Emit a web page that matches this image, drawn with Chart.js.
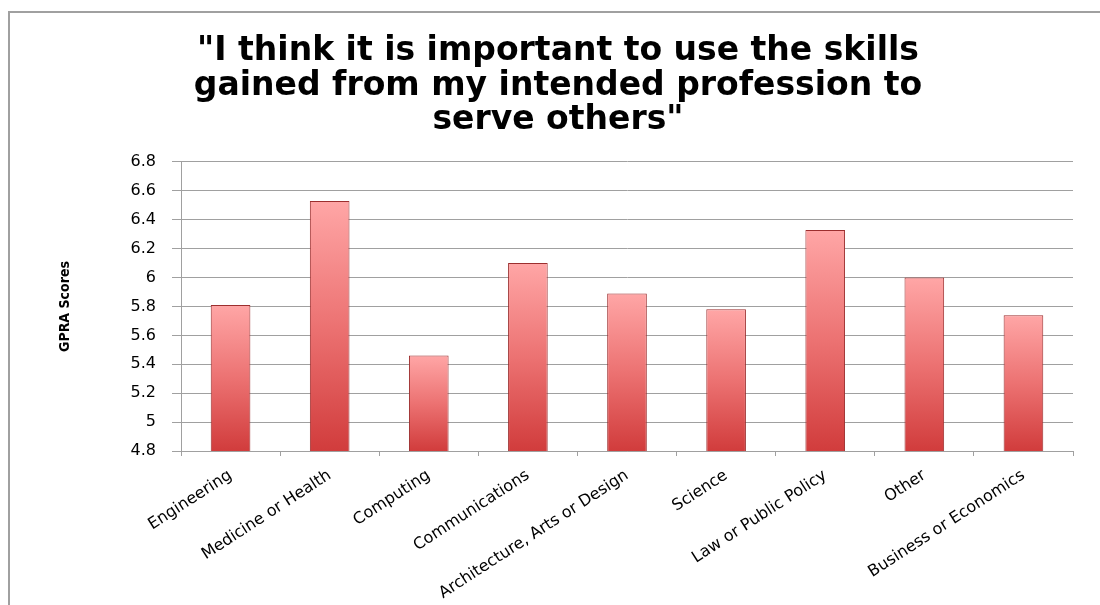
<!DOCTYPE html>
<html>
<head>
<meta charset="utf-8">
<script src="https://cdn.jsdelivr.net/npm/chart.js@4"></script>
<style>
  body { margin: 0; background: #fff; }
  #wrap { position: relative; width: 1100px; height: 605px; overflow: hidden; }
  #frame { position: absolute; left: 8px; top: 11px; width: 1200px; height: 700px;
           border-left: 2px solid #a0a0a0; border-top: 2px solid #a0a0a0; }
  canvas { position: absolute; left: 0; top: 0; }
</style>
</head>
<body>
<div id="wrap">
  <div id="frame"></div>
  <canvas id="scoreChart" width="1100" height="605"></canvas>
</div>
<script>
var categories = ['Engineering', 'Medicine or Health', 'Computing', 'Communications',
    'Architecture, Arts or Design', 'Science', 'Law or Public Policy', 'Other',
    'Business or Economics'];
var scores = [5.81, 6.53, 5.46, 6.10, 5.89, 5.78, 6.33, 6.00, 5.74];
var titleLines = ['"I think it is important to use the skills',
    'gained from my intended profession to', 'serve others"'];
var yMin = 4.8, yMax = 6.8, yStep = 0.2;

function barFill(context) {
    var chart = context.chart;
    var y = chart.scales.y;
    if (!y || context.raw == null) return '#e45a5a';
    var top = y.getPixelForValue(context.raw);
    var bottom = y.getPixelForValue(yMin);
    if (!isFinite(top) || !isFinite(bottom) || top === bottom) return '#e45a5a';
    var g = chart.ctx.createLinearGradient(0, top, 0, bottom);
    g.addColorStop(0, '#ffa6a6');
    g.addColorStop(0.5, '#ec7272');
    g.addColorStop(1, '#d13c3c');
    return g;
}

var ctx = document.getElementById('scoreChart').getContext('2d');
var scoreChart = new Chart(ctx, {
    type: 'bar',
    data: {
        labels: categories,
        datasets: [{
            label: 'GPRA Scores',
            data: scores,
            backgroundColor: barFill,
            borderColor: '#9c2e2e',
            borderWidth: 1,
            barPercentage: 0.4,
            categoryPercentage: 1.0
        }]
    },
    options: {
        responsive: false,
        animation: false,
        layout: {
            padding: { left: 43, right: 27, top: 0, bottom: 0 }
        },
        plugins: {
            legend: { display: false },
            tooltip: { enabled: false },
            title: {
                display: true,
                text: titleLines,
                color: '#000',
                font: { family: 'DejaVu Sans', size: 33, weight: 'bold', lineHeight: 1.05 },
                padding: { top: 34, bottom: 24 }
            }
        },
        scales: {
            x: {
                grid: {
                    offset: true,
                    drawOnChartArea: false,
                    drawTicks: true,
                    tickLength: 5,
                    color: '#a0a0a0'
                },
                border: { color: '#a0a0a0', width: 1 },
                ticks: {
                    color: '#000',
                    padding: 10,
                    minRotation: 33,
                    maxRotation: 33,
                    autoSkip: false,
                    font: { family: 'DejaVu Sans', size: 16 }
                },
                afterFit: function (scale) { scale.height = 154; }
            },
            y: {
                min: yMin,
                max: yMax,
                grid: {
                    color: '#a0a0a0',
                    tickLength: 9
                },
                border: { color: '#a0a0a0', width: 1 },
                ticks: {
                    stepSize: yStep,
                    color: '#000',
                    padding: 16,
                    font: { family: 'DejaVu Sans', size: 16 },
                    callback: function (v) { return Math.round(v * 10) / 10; }
                },
                title: {
                    display: true,
                    text: 'GPRA Scores',
                    color: '#000',
                    font: { family: "'DejaVu Sans Condensed', 'Liberation Sans', sans-serif", size: 14, weight: 'bold' },
                    padding: { top: 14, bottom: 0 }
                },
                afterFit: function (scale) { scale.width = 138; }
            }
        }
    }
});
</script>
</body>
</html>
